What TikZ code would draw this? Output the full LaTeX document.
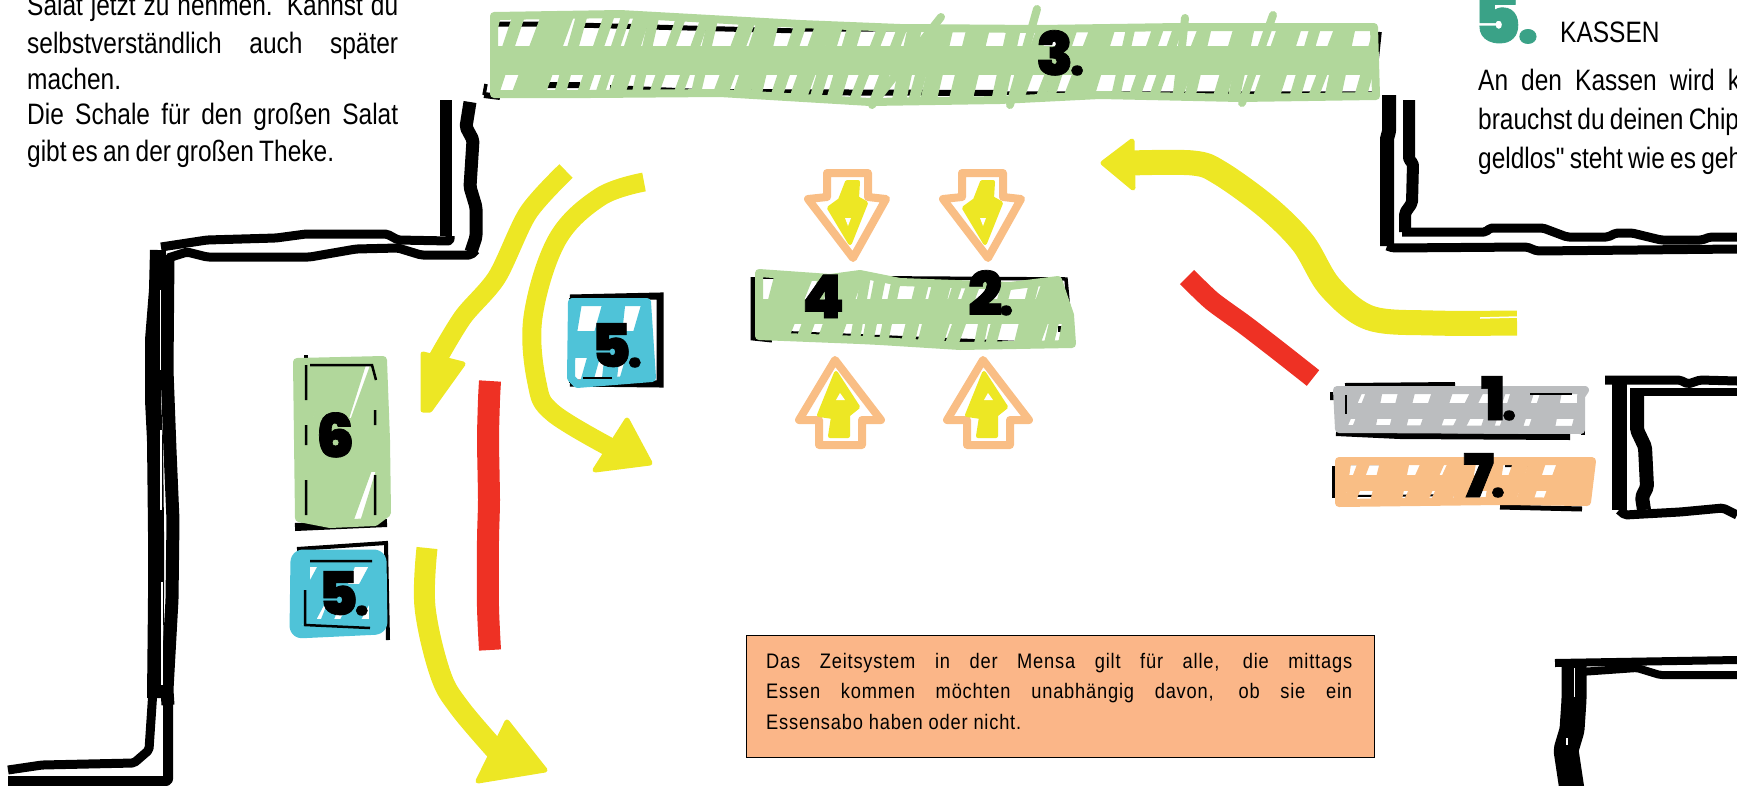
\documentclass[tikz,border=0pt]{standalone}
\usepackage{fontspec}
\setmainfont{Liberation Sans}
\newfontfamily\narrowf[FakeStretch=0.83]{Liberation Sans}
\newfontfamily\spacedf[FakeStretch=0.87,LetterSpace=3.8]{Liberation Sans}
\newfontfamily\heavyf[UprightFont=* Black,FakeBold=1.2]{Poppins}
\definecolor{cgreen}{HTML}{B1D79B}
\definecolor{cblue}{HTML}{4FC3D8}
\definecolor{cgrey}{HTML}{BBBDBF}
\definecolor{corange}{HTML}{F9BE85}
\definecolor{cyellow}{HTML}{EDE724}
\definecolor{cred}{HTML}{EE3124}
\definecolor{cbox}{HTML}{FBB688}
\definecolor{cteal}{HTML}{3AA287}
\tikzset{
  wall/.style={black,line width=8pt,line join=round,rounded corners=2pt},
  ink/.style={black,line width=3.5pt},
  yel/.style={cyellow,line width=19pt,line join=round},
  yelhead/.style={fill=cyellow,draw=cyellow,line width=5pt,line join=round},
  redline/.style={cred,line width=22pt,line join=round},
  num/.style={anchor=base west,inner sep=0pt,font=\heavyf\fontsize{60}{60}\selectfont},
  para/.style={anchor=base west,inner sep=0pt,font=\narrowf\fontsize{29.5}{29.5}\selectfont},
  note/.style={anchor=base west,inner sep=0pt,font=\spacedf\fontsize{21}{21}\selectfont},
  oarrow/.style={draw=corange,line width=8pt,line join=round,fill=white},
}
\newcommand\jline[2]{\hbox to #1pt{\spaceskip=.2em plus 1fil\relax #2}}
\newcommand\tsp{\spaceskip=.18em\relax}
\newcommand\dotted[1]{#1\kern-3pt{\fontsize{44}{44}\selectfont.}}
% polygon; xmin; xmax; ymin; ymax; colour; pitch; stroke; slant
\newcommand\scrib[9]{%
  \begin{scope}
    \clip #1;
    \pgfmathsetmacro\sa{#2-#9-10}\pgfmathsetmacro\sb{\sa+#7}\pgfmathsetmacro\sc{#3+10}
    \pgfmathsetmacro\ya{#4+0.36*(#5-#4)}\pgfmathsetmacro\yb{#4+0.68*(#5-#4)}
    \fill[#6] (#2,\ya) rectangle (#3,\yb);
    \foreach \x in {\sa,\sb,...,\sc}{%
      \pgfmathsetmacro\lw{#8+16*rnd*rnd}\pgfmathsetmacro\xj{\x+7*rand}\pgfmathsetmacro\sl{#9+9*rand}%
      \draw[#6,line width=\lw pt] (\xj,#5) -- (\xj+\sl,#4);}
  \end{scope}
  \draw[#6,line width=8pt,line join=round] #1;}
\newcommand\arrowdown[1]{\begin{scope}[shift={(#1,0)}]
  \draw[oarrow] (827,173) -- (868,173) -- (868,197) -- (886,199) -- (853,258) -- (808,199) -- (827,197) -- cycle;
  \filldraw[draw=cyellow,fill=cyellow,line width=4pt,line join=round] (847,182) -- (858,182) -- (857,198) -- (866,203) -- (850,243) -- (829,208) -- (840,200) -- cycle;
  \fill[white] (845,218) -- (851,218) -- (848,226) -- cycle;
\end{scope}}
\newcommand\arrowup[1]{\begin{scope}[shift={(#1,0)}]
  \draw[oarrow] (835,360) -- (881,420) -- (862,420) -- (862,445) -- (819,445) -- (819,420) -- (799,420) -- cycle;
  \filldraw[draw=cyellow,fill=cyellow,line width=4pt,line join=round] (836,373) -- (858,407) -- (848,415) -- (848,436) -- (830,436) -- (833,417) -- (819,415) -- cycle;
  \fill[white] (840,393) -- (845,400) -- (836,400) -- cycle;
\end{scope}}
\begin{document}
\begin{tikzpicture}[x=1pt,y=-1pt]
\useasboundingbox (0,0) rectangle (1737,785);
\clip (0,0) rectangle (1737,785);
\pgfmathsetseed{11}
% --- upper left wall
\draw[wall,line width=12pt] (446,100) -- (446,236);
\draw[wall,line width=9pt] (450,236) -- (450,241) -- (398,240) -- (387,234) -- (306,234) -- (276,238) -- (207,240) -- (161,247);
\draw[wall,line width=13pt] (470,102) -- (466,127) -- (473,140) -- (470,187) -- (476,207) -- (476,237) -- (471,252);
\draw[wall,line width=9pt] (476,250) -- (471,255) -- (421,255) -- (398,248) -- (356,249) -- (310,257) -- (207,257) -- (187,252) -- (168,258);
% --- left long wall
\draw[wall,line width=16pt] (158,250) -- (157,290) -- (153,340) -- (153,400) -- (155,440) -- (156,530) -- (156,600) -- (155,698);
\draw[wall,line width=13pt] (168,255) -- (167,370) -- (170,450) -- (173,520) -- (172,600) -- (167,690) -- (168,705);
\draw[wall,line width=9pt] (153,690) -- (149,750) -- (134,763) -- (42,765) -- (8,770);
\draw[wall,line width=10pt] (168,700) -- (168,781) -- (8,781);
\fill[white] (160,290) rectangle (161,370);
\fill[white] (160,430) rectangle (162,510);
\fill[white] (161,582) rectangle (163,685);
% --- upper right wall
\draw[wall,line width=14pt] (1389,95) -- (1389,133) -- (1387,137) -- (1387,246);
\draw[wall,line width=9pt] (1387,246) -- (1393,248) -- (1527,247) -- (1537,251) -- (1737,249);
\draw[wall,line width=12pt] (1409,100) -- (1409,160) -- (1413,163) -- (1412,203) -- (1405,213) -- (1405,232);
\draw[wall,line width=9pt] (1402,232) -- (1486,232) -- (1490,228) -- (1543,228) -- (1567,237) -- (1608,237) -- (1616,233) -- (1632,233) -- (1661,240) -- (1702,240) -- (1710,237) -- (1737,237);
% --- right room
\draw[wall,line width=9pt] (1605,380) -- (1680,380) -- (1688,384) -- (1700,380) -- (1737,381);
\draw[wall,line width=8pt] (1630,392) -- (1737,392);
\draw[wall,line width=15pt] (1619,383) -- (1619,510);
\draw[wall,line width=9pt] (1619,510) -- (1625,515) -- (1680,512) -- (1723,508) -- (1737,515);
\draw[wall,line width=14pt] (1637,393) -- (1637,430) -- (1645,447) -- (1647,487) -- (1642,497) -- (1644,510);
% --- lower right room
\draw[wall,line width=8pt] (1555,663) -- (1737,660);
\draw[wall,line width=8pt] (1580,672) -- (1637,668) -- (1660,675) -- (1737,675);
\draw[wall,line width=25pt] (1574,665) -- (1574,700) -- (1572,730) -- (1566,750) -- (1572,790);
\fill[white] (1573.5,668) rectangle (1575,697);
\fill[white] (1566,738) rectangle (1567.5,745);
% --- top counter (3.)
\draw[ink,line width=5pt] (498,24) -- (546,24) (575,25) -- (800,31);
\draw[ink] (800,30) -- (1376,28);
\draw[ink] (1380,32) -- (1376,70) -- (1377,97);
\draw[ink] (1376,93) -- (1000,93) (486,84) -- (484,95);
\draw[ink,line width=6pt] (484,95) -- (500,97) (545,85) -- (580,85) (610,88) -- (700,92) -- (1000,93);
\scrib{(494,16) -- (620,14) -- (800,24) -- (900,28) -- (1040,29) -- (1180,27) -- (1374,27) -- (1376,96) -- (1240,98) -- (1100,95) -- (1000,100) -- (870,102) -- (720,93) -- (590,94) -- (494,94) -- cycle}{490}{1380}{13}{104}{cgreen}{20}{9}{28}
\draw[cgreen,line width=8pt,line cap=round] (1037,9) -- (1010,105) (941,17) -- (872,105) (1185,18) -- (1177,93) (1273,15) -- (1242,103);
% --- centre counter (4 2.)
\draw[ink,line width=5pt] (753,277) -- (753,338) -- (772,340);
\draw[ink] (760,277) -- (1066,279) -- (1072,345) -- (770,332);
\draw[ink,line width=5pt] (1060,326) -- (1060,332);
\scrib{(759,273) -- (830,278) -- (860,274) -- (900,282) -- (1010,286) -- (1058,280) -- (1070,315) -- (1072,344) -- (960,346) -- (880,341) -- (860,340) -- (759,336) -- cycle}{755}{1075}{272}{348}{cgreen}{18}{9}{22}
% --- blue box centre
\draw[black,line width=7pt] (570,298) -- (660,296) -- (660,384) -- (570,383);
\draw[black,line width=3pt] (570,298) -- (570,383);
\scrib{(572,302) -- (647,302) -- (652,378) -- (577,384) -- (571,378) -- cycle}{570}{654}{300}{386}{cblue}{20}{12}{18}
\draw[ink,line width=2pt] (583,378) -- (612,378);
% --- lower blue box
\draw[black,line width=4pt] (297,549) -- (386,543) -- (388,640) (305,627) -- (380,630);
\draw[cblue,line width=13pt,line join=round,rounded corners=6pt] (297,556) -- (380,556) -- (381,628) -- (296,632) -- cycle;
\fill[white] (308,563) rectangle (372,622);
\scrib{(306,563) -- (373,563) -- (373,623) -- (306,623) -- cycle}{306}{373}{561}{625}{cblue}{22}{12}{30}
\draw[ink,line width=2.5pt] (310,561) -- (372,561) (305,590) -- (305,625) -- (370,628);
% --- box 6
\draw[black,line width=4pt] (306,355) -- (306,525) (375,365) -- (382,365) -- (382,525) (310,363) -- (372,363);
\draw[black,line width=8pt] (295,527) -- (387,523);
\scrib{(297,362) -- (383,360) -- (386,440) -- (387,513) -- (375,522) -- (330,524) -- (299,518) -- cycle}{295}{390}{358}{526}{cgreen}{36}{30}{55}
\draw[ink,line width=2.5pt] (306,365) -- (306,400) (306,425) -- (306,445) (306,480) -- (306,515) (310,365) -- (372,365) -- (376,380) (375,410) -- (375,425) (375,475) -- (375,515);
% --- grey counter 1
\draw[ink,line width=6pt] (1333,392) -- (1333,400) (1345,386) -- (1455,385);
\draw[ink,line width=6pt] (1336,433) -- (1400,436) -- (1570,437);
\draw[ink] (1583,395) -- (1583,435);
\scrib{(1337,390) -- (1585,390) -- (1581,396) -- (1581,430) -- (1339,429) -- cycle}{1333}{1590}{386}{434}{cgrey}{22}{12}{16}
\draw[ink,line width=2pt] (1346,395) -- (1346,414) (1530,394) -- (1572,394);
% --- orange counter 7
\draw[ink,line width=5pt] (1334,466) -- (1334,498);
\draw[ink,line width=2pt] (1348,464) -- (1405,464) (1355,496) -- (1470,495) (1505,466) -- (1535,466);
\draw[ink,line width=5pt] (1500,507) -- (1582,509);
\scrib{(1339,461) -- (1592,461) -- (1587,502) -- (1500,501) -- (1339,503) -- cycle}{1335}{1596}{457}{507}{corange}{22}{12}{16}
% --- red
\draw[redline] plot[smooth,tension=.4] coordinates {(490,381) (489,400) (488,440) (489,500) (488,540) (488,607) (490,650)};
\draw[redline,line width=20pt] plot[smooth,tension=.4] coordinates {(1187,277) (1212,301) (1245,325) (1280,352) (1313,378)};
% --- yellow arrows
\draw[yel,line width=25pt] plot[smooth,tension=.55] coordinates {(1517,323) (1433,323) (1370,318) (1330,287) (1303,243) (1267,207) (1220,173) (1193,163) (1130,163)};
\draw[white,line width=1.5pt] (1480,318) -- (1518,317);
\filldraw[yelhead] (1103,163) -- (1132,141) -- (1133,188) -- cycle;
\draw[yel] plot[smooth,tension=.5] coordinates {(566,171) (528,213) (497,277) (463,317) (437,360)};
\filldraw[yelhead] (423,354) -- (463,364) -- (430,410) -- (423,410) -- cycle;
\draw[yel] plot[smooth,tension=.6] coordinates {(644,182) (600,197) (557,240) (533,317) (537,383) (553,413) (615,450)};
\filldraw[yelhead] (650,463) -- (627,420) -- (595,470) -- cycle;
\draw[yel,line width=21pt] plot[smooth,tension=.6] coordinates {(427,548) (425,607) (440,673) (459,707) (500,755)};
\filldraw[yelhead] (545,770) -- (507,722) -- (478,781) -- cycle;
% --- orange arrows
\arrowdown{0}\arrowdown{135}
\arrowup{0}\arrowup{148}
% --- numbers
\node[num] (n3) at (1036,75) {\dotted{3}};
\node[num] (n4) at (802,318) {4};
\node[num] (n2) at (968,315) {\dotted{2}};
\node[num] (n5a) at (591,367) {\dotted{5}};
\node[num] (n6) at (316,457) {6};
\node[num] (n5b) at (318,615) {\dotted{5}};
\node[num] (n1) at (1481,420) {\dotted{1}};
\node[num] (n7) at (1463,497) {\dotted{7}};
% --- texts
\node[para] (t1) at (27,15) {\jline{371}{Salat jetzt zu nehmen. Kannst du}};
\node[para] (t2) at (27,53) {\jline{371}{selbstverständlich auch später}};
\node[para] (t3) at (27,89) {machen.};
\node[para] (t4) at (27,124) {\jline{371}{Die Schale für den großen Salat}};
\node[para] (t5) at (27,161) {\tsp gibt es an der großen Theke.};
\node[num,text=cteal,font=\heavyf\fontsize{72}{72}\selectfont] (k5) at (1473,43) {5\kern-3pt{\fontsize{64}{64}\selectfont.}};
\node[para] (k0) at (1560,42) {KASSEN};
\node[para] (k1) at (1478,90) {\jline{262}{An den Kassen wird k}};
\node[para] (k2) at (1478,129) {\tsp brauchst du deinen Chip};
\node[para] (k3) at (1478,168) {\tsp geldlos" steht wie es geh};
\node[draw=black,line width=1pt,fill=cbox,minimum width=628pt,minimum height=122pt,anchor=north west,inner sep=0pt] (box) at (746,635) {};
\node[note] (b1) at (766,668) {\jline{586}{Das Zeitsystem in der Mensa gilt für alle, die mittags}};
\node[note] (b2) at (766,698) {\jline{586}{Essen kommen möchten unabhängig davon, ob sie ein}};
\node[note] (b3) at (766,729) {Essensabo haben oder nicht.};
\end{tikzpicture}
\end{document}
